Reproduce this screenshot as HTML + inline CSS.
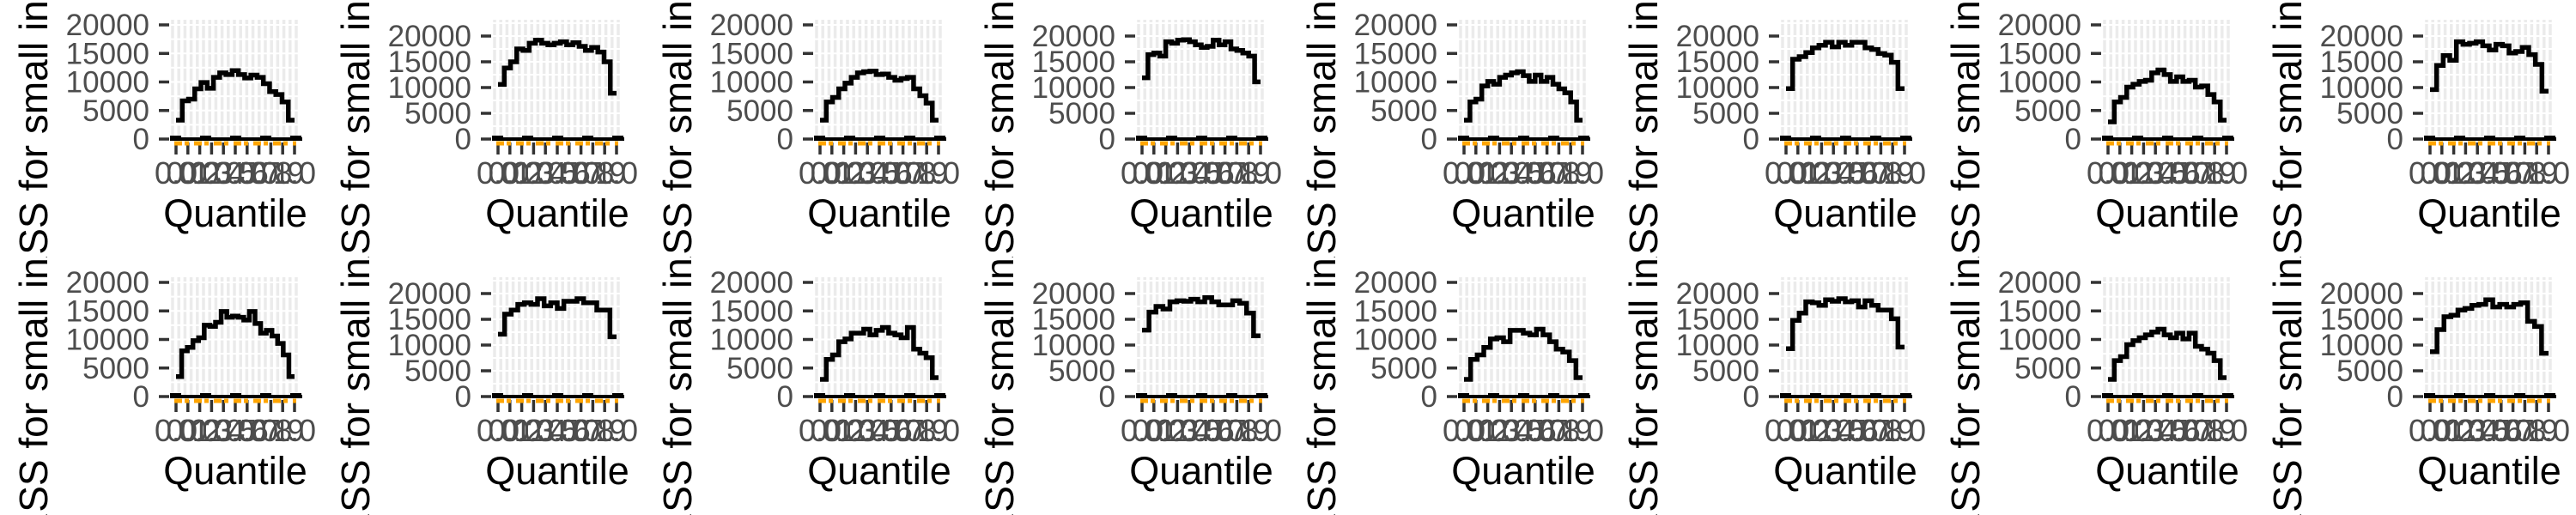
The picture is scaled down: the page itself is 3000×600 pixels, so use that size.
<!DOCTYPE html>
<html><head><meta charset="utf-8">
<style>html,body{margin:0;padding:0;background:#fff;width:3000px;height:600px;overflow:hidden;}svg{display:block;font-family:"Liberation Sans",sans-serif;}</style>
</head><body>
<svg id="chart" width="3000" height="600" xmlns="http://www.w3.org/2000/svg" overflow="hidden"></svg>
<script>
const panelTypes = ["low","high","low","high","low","high","low","high","low","high","low","high","low","high","low","high"];
const p1 = [3300,6700,7000,8800,9900,8900,10800,11600,11300,12000,11300,10700,11200,10800,9700,8300,7800,6500,3300];
const p2 = [10600,13800,15000,17500,17200,18600,19200,18600,18300,18600,18900,18300,18700,18000,17200,17800,16900,15000,8900];
const p3 = [3300,6500,7300,8800,9800,10800,11600,11800,11900,11300,11400,10800,10300,10600,10800,8800,7600,6300,3300];
const p4 = [11900,16400,16700,16100,18900,18600,19200,19300,18900,18300,17800,18000,19200,18300,18900,17500,17200,16700,16100,11100];
const p5 = [3300,6500,7000,9300,10100,9600,10800,11200,11600,11800,11100,10100,11200,10100,10800,9600,8800,8100,6500,3300];
const p6 = [9800,15500,16000,16800,17700,18200,18800,17900,18800,18200,18800,18800,17700,17400,16600,16300,14900,9800];
const p7 = [3000,6500,7300,9100,9600,10100,10300,11600,12100,11300,10100,10900,10100,10300,9100,9300,7800,6500,3300];
const p8 = [9600,14300,16200,15300,18900,18400,18600,18900,18100,17300,18400,18100,16700,17000,17800,16400,14500,9300];
const p9 = [3500,8000,8600,9800,10300,12500,12300,13000,14900,13900,14100,13900,13400,14900,12800,11100,11600,10600,9300,7300,3500];
const p10 = [12100,16000,16800,17900,18200,17900,19000,17600,18200,17100,18500,18500,19000,18200,18200,16800,16800,11600];
const p11 = [3000,6500,7300,9600,10100,11100,11100,11800,10800,11600,12100,11100,10800,10300,12100,8300,7600,6800,3300];
const p12 = [12900,16400,17500,17000,18400,18600,18500,18900,18400,19200,18400,17800,17800,18600,18100,16200,11800];
const p13 = [3000,6500,7300,8600,10100,10300,9600,11600,11600,11100,10800,11800,10800,9600,8300,7800,6300,3300];
const p14 = [9300,14800,16200,18400,18200,17700,18800,18500,19000,18400,18600,17400,18600,17700,16800,16800,15100,9600];
const p15 = [3000,6300,7000,9100,9800,10300,10800,11300,11800,10800,10300,11100,10100,11100,8800,8300,7600,6300,3300];
const p16 = [8700,13000,15500,15800,16800,17100,17700,17900,18800,17400,17900,17400,17900,18200,14600,13600,8400];
const panelSeries = [p1,p2,p3,p4,p5,p6,p7,p8,p9,p10,p11,p12,p13,p14,p15,p16];
const yTicks = [0,5000,10000,15000,20000];
const yTickLabels = ["0","5000","10000","15000","20000"];
const xTicks = [0,0.1,0.2,0.3,0.4,0.5,0.6,0.7,0.8,0.9,1.0];
const xTickLabels = ["0.0","0.1","0.2","0.3","0.4","0.5","0.6","0.7","0.8","0.9","1.0"];

const NS = "http://www.w3.org/2000/svg";
const svg = document.getElementById("chart");
function mk(tag, attrs, parent){ const e=document.createElementNS(NS,tag); for(const k in attrs) e.setAttribute(k,attrs[k]); parent.appendChild(e); return e; }

const PW=375, PH=300, PL=198, PR=352, PT=23, Y0=162;
function xs(v){ return 205 + v*(343-205); }

panelSeries.forEach((vals, idx)=>{
  const col = idx%8, row = Math.floor(idx/8);
  const ox = col*PW, oy = row*PH;
  const k = panelTypes[idx]==="low" ? (162-29)/20000 : (162-42)/20000;
  const ys = v => Y0 - v*k;
  const g = mk("svg",{x:ox,y:oy,width:PW,height:PH,overflow:"hidden"},svg);
  
  
  const grid = mk("g",{},g);
  
  
  for(let x=PL+3; x<PR; x+=7.2){ mk("line",{x1:x,x2:x,y1:PT,y2:Y0,stroke:"#ebebeb","stroke-width":3.5},grid); }
  for(let v=0; v<=22500; v+=2500){ const y=ys(v); if(y>PT) mk("line",{x1:PL,x2:PR,y1:y,y2:y,stroke:"#fff","stroke-width":2},grid); }
  yTicks.forEach((t,i)=>{
    const y=ys(t);
    const tk=mk("line",{x1:185,x2:197,y1:y,y2:y,stroke:"#333","stroke-width":3.5},g);
    
    
    const tl=mk("text",{x:174,y:y+12,"text-anchor":"end","font-size":35,fill:"#4d4d4d"},g);
    tl.textContent=yTickLabels[i];
    
    
  });
  xTicks.forEach((t,i)=>{
    const x=xs(t);
    const tk=mk("line",{x1:x,x2:x,y1:166,y2:180,stroke:"#333","stroke-width":3.5},g);
    
    
    const tl=mk("text",{x:x,y:214,"text-anchor":"middle","font-size":36,fill:"#4d4d4d"},g);
    tl.textContent=xTickLabels[i];
    
    
  });
  const z=mk("line",{x1:PL,x2:PR,y1:Y0,y2:Y0,stroke:"#000","stroke-width":4},g);
  
  
  const zb=mk("line",{x1:PL,x2:PR,y1:Y0-1,y2:Y0-1,stroke:"#000","stroke-width":6,"stroke-dasharray":"13 22"},g);
  
  
  const orl=mk("line",{x1:203,x2:345,y1:Y0+5,y2:Y0+5,stroke:"#FFA500","stroke-width":5,"stroke-dasharray":"9 3 5 6"},g);
  
  
  const n=vals.length; let d="";
  vals.forEach((v,i)=>{ const x1=xs(i/n), x2=xs((i+1)/n), y=ys(v); d += (i===0?`M${x1},${y}`:`L${x1},${y}`)+`L${x2},${y}`; });
  const p=mk("path",{d:d,fill:"none",stroke:"#000","stroke-width":5.5,"stroke-linejoin":"miter"},g);
  
  
  const xt=mk("text",{x:274,y:264,"text-anchor":"middle","font-size":45,fill:"#000"},g);
  xt.textContent="Quantile";
  
  
  const yt=mk("text",{x:0,y:0,transform:"translate(55,330) rotate(-90)","font-size":46,fill:"#000"},g);
  yt.textContent="RSS for small intervals";
  
  
});
</script>
</body></html>
